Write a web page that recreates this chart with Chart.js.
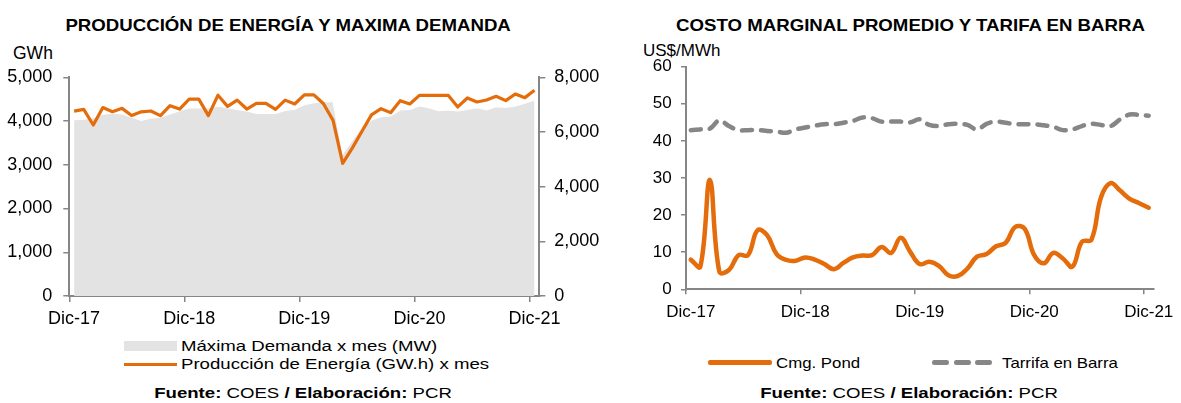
<!DOCTYPE html>
<html>
<head>
<meta charset="utf-8">
<script src="https://cdn.jsdelivr.net/npm/chart.js@4.4.1/dist/chart.umd.min.js"></script>
<style>
  html, body { margin:0; padding:0; background:#fff; width:1181px; height:403px; overflow:hidden; }
  body { position:relative; font-family:"Liberation Sans", Arial, sans-serif; color:#000; }
  .t { position:absolute; white-space:nowrap; }
  .ct { position:absolute; white-space:nowrap; text-align:center; width:600px; }
  .ct span, .t span { display:inline-block; transform-origin:50% 50%; }
  .t span { transform-origin:0 50%; }
  canvas { position:absolute; }
  .mk { position:absolute; }
</style>
</head>
<body>
<div class="ct" style="left:-12px; top:17.25px; font-size:16.5px; line-height:16.5px; font-weight:bold;"><span style="transform:scaleX(1.13)">PRODUCCIÓN DE ENERGÍA Y MAXIMA DEMANDA</span></div>
<div class="ct" style="left:610px; top:17.25px; font-size:16.5px; line-height:16.5px; font-weight:bold;"><span style="transform:scaleX(1.13)">COSTO MARGINAL PROMEDIO Y TARIFA EN BARRA</span></div>

<div class="t" style="left:13px; top:44.75px; font-size:17.5px; line-height:17.5px;">GWh</div>
<div class="t" style="left:643px; top:42px; font-size:17px; line-height:17px;">US$/MWh</div>

<canvas id="cL" width="620" height="290" style="left:0px; top:40px;"></canvas>
<canvas id="cR" width="581" height="290" style="left:600px; top:40px;"></canvas>

<!-- left legend -->
<div class="mk" style="left:124px; top:340.5px; width:53px; height:10px; background:#e3e3e3;"></div>
<div class="t" style="left:180.7px; top:338.25px; font-size:15.5px; line-height:15.5px;"><span style="transform:scaleX(1.2)">Máxima Demanda x mes (MW)</span></div>
<div class="mk" style="left:124px; top:363px; width:53px; height:3.2px; background:#E46C0A;"></div>
<div class="t" style="left:180.7px; top:356.25px; font-size:15.5px; line-height:15.5px;"><span style="transform:scaleX(1.2)">Producción de Energía (GW.h) x mes</span></div>

<!-- right legend -->
<div class="mk" style="left:708px; top:360px; width:64px; height:4.6px; background:#E46C0A; border-radius:2px;"></div>
<div class="t" style="left:775.6px; top:355.5px; font-size:14.5px; line-height:14.5px;"><span style="transform:scaleX(1.16)">Cmg. Pond</span></div>
<div class="mk" style="left:932px; top:360px; width:17px; height:4.6px; background:#868686; border-radius:2.3px;"></div>
<div class="mk" style="left:954px; top:360px; width:17px; height:4.6px; background:#868686; border-radius:2.3px;"></div>
<div class="mk" style="left:975px; top:360px; width:17px; height:4.6px; background:#868686; border-radius:2.3px;"></div>
<div class="t" style="left:1001.5px; top:355.5px; font-size:14.5px; line-height:14.5px;"><span style="transform:scaleX(1.16)">Tarrifa en Barra</span></div>

<!-- sources -->
<div class="ct" style="left:3px; top:385.25px; font-size:15.5px; line-height:15.5px;"><span style="transform:scaleX(1.2)"><b>Fuente:</b> COES <b>/ Elaboración:</b> PCR</span></div>
<div class="ct" style="left:609px; top:385.25px; font-size:15.5px; line-height:15.5px;"><span style="transform:scaleX(1.2)"><b>Fuente:</b> COES <b>/ Elaboración:</b> PCR</span></div>

<script>
// ---------- DATA ----------
// Monthly categories, Dic-17 .. Dic-21
const months = ['Dic-17',
  'Ene-18','Feb-18','Mar-18','Abr-18','May-18','Jun-18','Jul-18','Ago-18','Sep-18','Oct-18','Nov-18','Dic-18',
  'Ene-19','Feb-19','Mar-19','Abr-19','May-19','Jun-19','Jul-19','Ago-19','Sep-19','Oct-19','Nov-19','Dic-19',
  'Ene-20','Feb-20','Mar-20','Abr-20','May-20','Jun-20','Jul-20','Ago-20','Sep-20','Oct-20','Nov-20','Dic-20',
  'Ene-21','Feb-21','Mar-21','Abr-21','May-21','Jun-21','Jul-21','Ago-21','Sep-21','Oct-21','Nov-21','Dic-21'];
// Labels shown on the axis
const xTickLabels = ['Dic-17', 'Dic-18', 'Dic-19', 'Dic-20', 'Dic-21'];

// Producción de Energía (GW.h) x mes
const produccion = [4225, 4265, 3910, 4308, 4214, 4290, 4125, 4210, 4230, 4125,
                    4352, 4275, 4500, 4500, 4125, 4590, 4335, 4480, 4275, 4405,
                    4405, 4268, 4478, 4390, 4600, 4600, 4395, 4015, 3034, 3380,
                    3760, 4140, 4283, 4192, 4466, 4390, 4588, 4588, 4588, 4588,
                    4322, 4527, 4436, 4482, 4566, 4466, 4619, 4535, 4703];

// Máxima Demanda x mes (MW)
const maxDemanda = [6450, 6470, 6520, 6650, 6690, 6660, 6540, 6420, 6510, 6540,
                    6660, 6780, 6880, 6880, 6880, 6940, 6890, 6830, 6770, 6683,
                    6683, 6683, 6790, 6830, 6995, 7075, 7105, 7105, 5200, 5700,
                    6170, 6440, 6560, 6585, 6805, 6830, 6950, 6890, 6780, 6805,
                    6768, 6829, 6890, 6805, 6927, 6902, 6951, 7049, 7171];

// Cmg. Pond (US$/MWh)
const cmgPond = [8.0, 6.1, 29.5, 4.7, 5.2, 9.2, 9.2, 15.9, 14.6, 9.5,
                 7.9, 7.7, 8.6, 8.0, 6.8, 5.4, 7.1, 8.6, 9.1, 9.2,
                 11.4, 9.8, 13.9, 10.1, 6.8, 7.4, 6.3, 3.8, 3.6, 5.6,
                 8.8, 9.5, 11.6, 12.5, 16.8, 16.3, 9.2, 7.0, 9.8, 8.3,
                 6.1, 12.8, 13.4, 24.8, 28.6, 26.6, 24.4, 23.2, 22.0];

// Tarrifa en Barra (US$/MWh)
const tarifaBarra = [42.9, 43.1, 43.3, 45.5, 44.0, 42.9, 42.9, 42.9, 42.7, 42.5,
                     42.2, 43.1, 43.6, 44.1, 44.5, 44.5, 44.9, 45.4, 46.3, 46.1,
                     45.2, 45.2, 45.2, 45.0, 45.8, 44.3, 44.0, 44.5, 44.6, 44.3,
                     43.1, 44.6, 45.2, 44.9, 44.5, 44.5, 44.5, 44.2, 43.8, 42.9,
                     43.1, 44.0, 44.6, 44.3, 44.0, 45.8, 47.1, 47.0, 46.8];

const leftTicks = [0, 1000, 2000, 3000, 4000, 5000];
const rightTicks = [0, 2000, 4000, 6000, 8000];
const costTicks = [0, 10, 20, 30, 40, 50, 60];

// ---------- STYLE ----------
const ORANGE = '#E46C0A';
const GRAY_DASH = '#868686';
const AREA = '#e3e3e3';
const AXIS = '#868686';
const FAMILY = '"Liberation Sans", Arial, sans-serif';

const fmt = v => Number(v).toLocaleString('en-US');
const shown = lbl => xTickLabels.includes(lbl);

function xScale(height, padding, tickLen, fontSize) {
  return {
    type: 'category', offset: true,
    ticks: {
      callback: function (v, i) { const l = this.getLabelForValue(v); return shown(l) ? l : ''; },
      font: { family: FAMILY, size: fontSize }, color: '#000', padding: padding,
      maxRotation: 0, minRotation: 0, autoSkip: false
    },
    grid: {
      offset: true, drawOnChartArea: false, drawTicks: true, tickLength: tickLen, lineWidth: 1.5,
      color: ctx => (ctx.tick && shown(ctx.tick.label)) ? AXIS : 'rgba(0,0,0,0)'
    },
    border: { color: AXIS, width: 2 },
    afterFit: s => { s.height = height; }
  };
}
function yScale(pos, tickVals, width, padding, tickLen, fontSize, fmtFn) {
  return {
    type: 'linear', position: pos, min: tickVals[0], max: tickVals[tickVals.length - 1],
    afterBuildTicks: s => { s.ticks = tickVals.map(v => ({ value: v })); },
    ticks: { callback: v => fmtFn(v), font: { family: FAMILY, size: fontSize }, color: '#000', padding: padding },
    grid: { drawOnChartArea: false, drawTicks: true, tickLength: tickLen, color: AXIS, lineWidth: 1.5 },
    border: { color: AXIS, width: 2 },
    afterFit: s => { s.width = width; }
  };
}

const common = {
  responsive: false, animation: false, devicePixelRatio: 1,
  plugins: { legend: { display: false }, tooltip: { enabled: false }, title: { display: false } },
  events: []
};

// ---------- LEFT CHART ----------
new Chart(document.getElementById('cL'), {
  type: 'line',
  data: {
    labels: months,
    datasets: [
      { label: 'Producción de Energía (GW.h) x mes', data: produccion, yAxisID: 'y',
        borderColor: ORANGE, borderWidth: 3.2, pointRadius: 0, tension: 0, fill: false, order: 0,
        borderJoinStyle: 'round' },
      { label: 'Máxima Demanda x mes (MW)', data: maxDemanda, yAxisID: 'y1',
        borderColor: '#ffffff', borderWidth: 1.2, backgroundColor: AREA, fill: 'origin',
        pointRadius: 0, tension: 0, order: 1 }
    ]
  },
  options: Object.assign({}, common, {
    layout: { padding: { top: 37.3, left: 0, right: 0, bottom: 0 } },
    scales: {
      x: xScale(34, 6.5, 6, 18),
      y: yScale('left', leftTicks, 69.3, 11, 6, 18, fmt),
      y1: yScale('right', rightTicks, 80.7, 9, 6, 18, fmt)
    }
  })
});

// ---------- RIGHT CHART ----------
new Chart(document.getElementById('cR'), {
  type: 'line',
  data: {
    labels: months,
    datasets: [
      { label: 'Cmg. Pond', data: cmgPond, yAxisID: 'y',
        borderColor: ORANGE, borderWidth: 4.5, pointRadius: 0, tension: 0.4, fill: false, order: 0,
        borderCapStyle: 'round', borderJoinStyle: 'round' },
      { label: 'Tarrifa en Barra', data: tarifaBarra, yAxisID: 'y',
        borderColor: GRAY_DASH, borderWidth: 4.5, borderDash: [10, 9], borderCapStyle: 'round',
        pointRadius: 0, tension: 0.4, fill: false, order: 1 }
    ]
  },
  options: Object.assign({}, common, {
    layout: { padding: { top: 26.7, left: 0, right: 20, bottom: 0 } },
    scales: {
      x: xScale(40.7, 7.5, 5, 17),
      y: yScale('left', costTicks, 86, 9.3, 5, 17, v => String(v))
    }
  })
});
</script>
</body>
</html>
